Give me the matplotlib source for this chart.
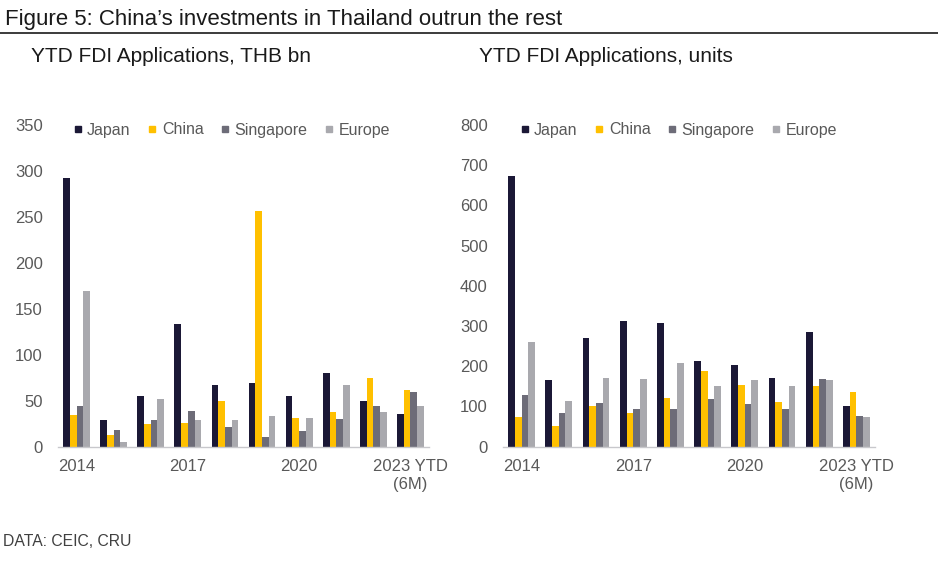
import matplotlib.pyplot as plt
from matplotlib.lines import Line2D
import numpy as np

plt.rcParams["font.family"] = ["Liberation Sans", "DejaVu Sans"]

years = ["2014", "2015", "2016", "2017", "2018", "2019", "2020", "2021", "2022", "2023 YTD\n(6M)"]
countries = ["Japan", "China", "Singapore", "Europe"]
colors = ["#1b1836", "#ffc000", "#6d6c78", "#a9a9ae"]

# YTD FDI applications, THB bn
thb_japan = [292, 29, 55, 134, 67, 69, 55, 80, 50, 36]
thb_china = [34, 13, 25, 26, 50, 256, 31, 38, 75, 62]
thb_singapore = [44, 18, 29, 39, 21, 11, 17, 30, 44, 59]
thb_europe = [169, 5, 52, 29, 29, 33, 31, 67, 38, 44]

# YTD FDI applications, units
units_japan = [672, 165, 271, 312, 308, 213, 202, 172, 284, 100]
units_china = [75, 52, 100, 83, 121, 189, 154, 110, 152, 135]
units_singapore = [128, 83, 108, 93, 93, 118, 107, 93, 168, 76]
units_europe = [260, 114, 172, 168, 209, 150, 165, 152, 165, 73]

tick_color = "#595959"

fig = plt.figure(figsize=(9.38, 5.62), dpi=100)

ax1 = fig.add_axes([58 / 938, 1 - 446.7 / 562, 371 / 938, 321.7 / 562])
ax2 = fig.add_axes([503 / 938, 1 - 446.7 / 562, 372 / 938, 321.7 / 562])


def draw(ax, series, ymax, step):
    x = np.arange(len(years))
    w = 0.18
    for i, (vals, c) in enumerate(zip(series, colors)):
        ax.bar(x + (i - 1.5) * w, vals, width=w, color=c, linewidth=0)
    ax.set_xlim(-0.5, len(years) - 0.5)
    ax.set_ylim(0, ymax)
    ax.set_yticks(np.arange(0, ymax + 1, step))
    ax.set_xticks(x[::3])
    ax.set_xticklabels(years[::3])
    for s in ["top", "right", "left"]:
        ax.spines[s].set_visible(False)
    ax.spines["bottom"].set_color("#c8c8cc")
    ax.spines["bottom"].set_linewidth(1.0)
    ax.tick_params(axis="both", length=0, labelsize=12, labelcolor=tick_color)
    ax.tick_params(axis="x", pad=9)
    ax.tick_params(axis="y", pad=11)


draw(ax1, [thb_japan, thb_china, thb_singapore, thb_europe], 350, 50)
draw(ax2, [units_japan, units_china, units_singapore, units_europe], 800, 100)

handles = [Line2D([], [], marker="s", linestyle="none", markersize=5, color=c) for c in colors]
for ax, x0 in [(ax1, 72), (ax2, 519)]:
    fig.legend(handles, countries, loc="center left", bbox_to_anchor=(x0 / 938, 1 - 130 / 562),
               ncol=4, frameon=False, fontsize=11.5, labelcolor=tick_color,
               handlelength=0.7, handletextpad=0.25, columnspacing=1.0,
               borderpad=0, borderaxespad=0)

fig.text(5 / 938, 1 - 19 / 562, "Figure 5: China\u2019s investments in Thailand outrun the rest",
         fontsize=16, color="#1a1a1a", va="center", ha="left")
fig.add_artist(Line2D([0, 1], [1 - 33 / 562, 1 - 33 / 562], transform=fig.transFigure,
                      color="#1a1a1a", linewidth=1.2))
fig.text(31 / 938, 1 - 57 / 562, "YTD FDI Applications, THB bn", fontsize=15,
         color="#1a1a1a", va="center", ha="left")
fig.text(479 / 938, 1 - 57 / 562, "YTD FDI Applications, units", fontsize=15,
         color="#1a1a1a", va="center", ha="left")
fig.text(3 / 938, 1 - 541 / 562, "DATA: CEIC, CRU", fontsize=11.3,
         color="#404040", va="center", ha="left")

fig.savefig("out.png", dpi=100)
